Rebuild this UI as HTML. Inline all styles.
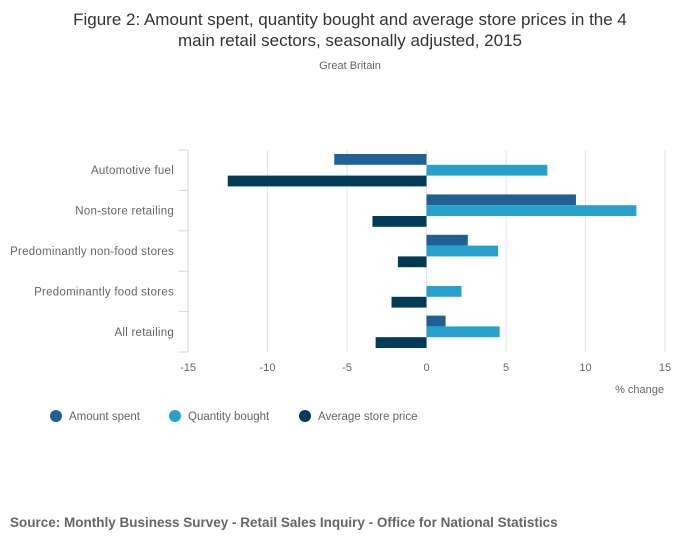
<!DOCTYPE html>
<html><head><meta charset="utf-8"><style>
body{margin:0;background:#fff;font-family:"Liberation Sans",sans-serif;}
svg text{font-family:"Liberation Sans",sans-serif;}
</style></head><body>
<svg id="c" width="700" height="549" xmlns="http://www.w3.org/2000/svg">
<text x="350" y="25" text-anchor="middle" font-size="17" fill="#333">Figure 2: Amount spent, quantity bought and average store prices in the 4</text>
<text x="350" y="46" text-anchor="middle" font-size="17" fill="#333">main retail sectors, seasonally adjusted, 2015</text>
<text x="350" y="69" text-anchor="middle" font-size="11" fill="#666">Great Britain</text>
<g id="grid"></g><g id="bars"></g><g id="axes"></g>
<text x="664" y="393" text-anchor="end" font-size="11" fill="#666">% change</text>
<g>
<circle cx="56" cy="416" r="6" fill="#206095"/>
<text x="69" y="420" font-size="11.5" fill="#666">Amount spent</text>
<circle cx="175" cy="416" r="6" fill="#27a0cc"/>
<text x="188" y="420" font-size="11.5" fill="#666">Quantity bought</text>
<circle cx="305" cy="416" r="6" fill="#003c57"/>
<text x="318" y="420" font-size="11.5" fill="#666">Average store price</text>
</g>
<text x="10" y="527" font-size="13.5" font-weight="bold" fill="#666">Source: Monthly Business Survey - Retail Sales Inquiry - Office for National Statistics</text>
</svg>
<script>
const categories=["Automotive fuel","Non-store retailing","Predominantly non-food stores","Predominantly food stores","All retailing"];
const amountSpent=[-5.8,9.4,2.6,0,1.2];
const quantityBought=[7.6,13.2,4.5,2.2,4.6];
const averagePrice=[-12.5,-3.4,-1.8,-2.2,-3.2];
const xTicks=[-15,-10,-5,0,5,10,15];
const NS="http://www.w3.org/2000/svg";
const x0=188,x1=665,vmin=-15,vmax=15,yTop=150,yBot=352;
const bandH=(yBot-yTop)/categories.length;
function xs(v){return x0+(v-vmin)/(vmax-vmin)*(x1-x0);}
function mk(t,a,p){const e=document.createElementNS(NS,t);for(const k in a)e.setAttribute(k,a[k]);p.appendChild(e);return e;}
const grid=document.getElementById('grid'),bars=document.getElementById('bars'),axes=document.getElementById('axes');
xTicks.forEach(t=>{
  if(t!==vmin){const l=mk('line',{x1:xs(t),x2:xs(t),y1:yTop,y2:yBot,stroke:'#e6e6e6','stroke-width':1},grid);
  
  }
  const tx=mk('text',{x:xs(t),y:371,'text-anchor':'middle','font-size':11,fill:'#666'},axes);
  tx.textContent=t;
  
  
});
const al=mk('line',{x1:x0,x2:x0,y1:yTop,y2:yBot,stroke:'#ccd6eb','stroke-width':1},axes);


for(let i=0;i<=categories.length;i++){
  const y=yTop+i*bandH;
  const tl=mk('line',{x1:179,x2:x0,y1:y,y2:y,stroke:'#ccd6eb','stroke-width':1},axes);
  
  
}
const series=[[amountSpent,'#206095','amount'],[quantityBought,'#27a0cc','quantity'],[averagePrice,'#003c57','price']];
categories.forEach((c,i)=>{
  const yb=yTop+i*bandH;
  const lb=mk('text',{x:174,y:yb+bandH/2+4,'text-anchor':'end','font-size':11.5,'letter-spacing':0.25,fill:'#666'},axes);
  lb.textContent=c;
  
  
  series.forEach(([arr,col,nm],j)=>{
    const v=arr[i];
    const a=xs(Math.min(0,v)),b=xs(Math.max(0,v));
    const r=mk('rect',{x:a,y:yb+4+j*10.8,width:b-a,height:10.8,fill:col},bars);
    
    
  });
});
</script>
</body></html>
